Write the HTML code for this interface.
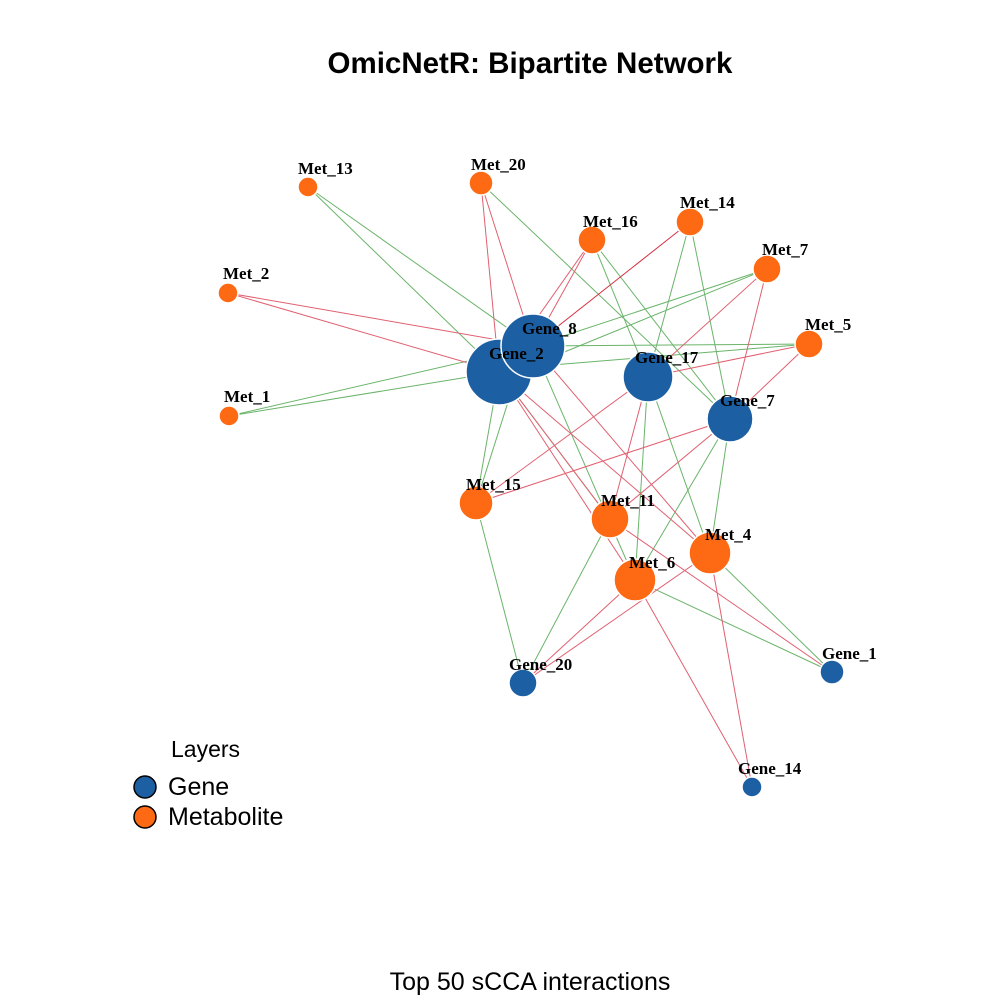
<!DOCTYPE html>
<html><head><meta charset="utf-8"><style>
html,body{margin:0;padding:0;background:#fff;width:1000px;height:1000px;overflow:hidden}
svg text{font-family:"Liberation Serif",serif;font-weight:bold;font-size:17px}
</style></head><body>
<svg width="1000" height="1000" viewBox="0 0 1000 1000" xmlns="http://www.w3.org/2000/svg">
<text x="530" y="73" text-anchor="middle" style="font-family:'Liberation Sans',sans-serif;font-size:29.5px;font-weight:bold">OmicNetR: Bipartite Network</text>
<g stroke-width="1" fill="none">
<g stroke="#6ab46a">
<line x1="308" y1="187" x2="499" y2="372"/><line x1="308" y1="187" x2="533" y2="346"/>
<line x1="481" y1="183" x2="730" y2="419"/>
<line x1="229" y1="416" x2="499" y2="372"/><line x1="229" y1="416" x2="533" y2="346"/>
<line x1="592" y1="240" x2="648" y2="377"/><line x1="592" y1="240" x2="730" y2="419"/>
<line x1="690" y1="222" x2="648" y2="377"/><line x1="690" y1="222" x2="730" y2="419"/>
<line x1="767" y1="269" x2="533" y2="346"/><line x1="767" y1="269" x2="540" y2="362"/>
<line x1="809" y1="344" x2="533" y2="346"/><line x1="809" y1="344" x2="540" y2="366"/>
<line x1="476" y1="503" x2="499" y2="372"/><line x1="476" y1="503" x2="523" y2="683"/>
<line x1="515" y1="380" x2="476" y2="503"/>
<line x1="610" y1="519" x2="499" y2="372"/><line x1="610" y1="519" x2="523" y2="683"/>
<line x1="635" y1="580" x2="533" y2="346"/><line x1="635" y1="580" x2="648" y2="377"/><line x1="635" y1="580" x2="730" y2="419"/><line x1="635" y1="580" x2="832" y2="672"/>
<line x1="710" y1="553" x2="648" y2="377"/><line x1="710" y1="553" x2="730" y2="419"/><line x1="710" y1="553" x2="832" y2="672"/>
</g>
<g stroke="#e06070">
<line x1="481" y1="183" x2="499" y2="372"/><line x1="481" y1="183" x2="533" y2="346"/>
<line x1="228" y1="293" x2="499" y2="372"/><line x1="228" y1="293" x2="533" y2="346"/>
<line x1="592" y1="240" x2="499" y2="372"/><line x1="592" y1="240" x2="533" y2="346"/>
<line x1="690" y1="222" x2="533" y2="346" stroke="#d83040"/>
<line x1="767" y1="269" x2="648" y2="377"/><line x1="767" y1="269" x2="730" y2="419"/>
<line x1="809" y1="344" x2="648" y2="377"/><line x1="809" y1="344" x2="730" y2="419"/>
<line x1="476" y1="503" x2="648" y2="377"/><line x1="476" y1="503" x2="730" y2="419"/>
<line x1="610" y1="519" x2="499" y2="372"/><line x1="610" y1="519" x2="648" y2="377"/><line x1="610" y1="519" x2="730" y2="419"/><line x1="610" y1="519" x2="832" y2="672"/>
<line x1="635" y1="580" x2="499" y2="372"/><line x1="635" y1="580" x2="523" y2="683"/><line x1="635" y1="580" x2="752" y2="787"/>
<line x1="710" y1="553" x2="499" y2="372"/><line x1="710" y1="553" x2="533" y2="346"/><line x1="710" y1="553" x2="523" y2="683"/><line x1="710" y1="553" x2="752" y2="787"/>
</g>
</g>
<g stroke="#fff" stroke-width="1.5">
<circle cx="308" cy="187" r="10" fill="#fd6a13"/>
<circle cx="481" cy="183" r="12" fill="#fd6a13"/>
<circle cx="592" cy="240" r="14" fill="#fd6a13"/>
<circle cx="690" cy="222" r="14" fill="#fd6a13"/>
<circle cx="767" cy="269" r="14" fill="#fd6a13"/>
<circle cx="809" cy="344" r="14" fill="#fd6a13"/>
<circle cx="228" cy="293" r="10" fill="#fd6a13"/>
<circle cx="229" cy="416" r="10" fill="#fd6a13"/>
<circle cx="499" cy="372" r="33" fill="#1c60a3"/>
<circle cx="533" cy="346" r="32" fill="#1c60a3"/>
<circle cx="648" cy="377" r="25" fill="#1c60a3"/>
<circle cx="730" cy="419" r="23" fill="#1c60a3"/>
<circle cx="476" cy="503" r="17" fill="#fd6a13"/>
<circle cx="610" cy="519" r="19" fill="#fd6a13"/>
<circle cx="710" cy="553" r="21" fill="#fd6a13"/>
<circle cx="635" cy="580" r="21" fill="#fd6a13"/>
<circle cx="523" cy="683" r="14" fill="#1c60a3"/>
<circle cx="832" cy="672" r="12" fill="#1c60a3"/>
<circle cx="752" cy="787" r="10" fill="#1c60a3"/>
</g>
<g fill="#000">
<text x="298" y="174">Met_13</text>
<text x="471" y="170">Met_20</text>
<text x="583" y="227">Met_16</text>
<text x="680" y="208">Met_14</text>
<text x="762" y="255">Met_7</text>
<text x="805" y="330">Met_5</text>
<text x="223" y="279">Met_2</text>
<text x="224" y="402">Met_1</text>
<text x="522" y="334">Gene_8</text>
<text x="489" y="359">Gene_2</text>
<text x="635" y="363">Gene_17</text>
<text x="720" y="406">Gene_7</text>
<text x="466" y="490">Met_15</text>
<text x="601" y="506">Met_11</text>
<text x="705" y="540">Met_4</text>
<text x="629" y="568">Met_6</text>
<text x="509" y="670">Gene_20</text>
<text x="822" y="659">Gene_1</text>
<text x="738" y="774">Gene_14</text>
</g>
<text x="171" y="757" style="font-family:'Liberation Sans',sans-serif;font-weight:normal;font-size:23px">Layers</text>
<circle cx="145" cy="787" r="11" fill="#1c60a3" stroke="#000" stroke-width="1.5"/>
<circle cx="145" cy="817" r="11" fill="#fd6a13" stroke="#000" stroke-width="1.5"/>
<text x="168" y="795" style="font-family:'Liberation Sans',sans-serif;font-weight:normal;font-size:25px">Gene</text>
<text x="168" y="825" style="font-family:'Liberation Sans',sans-serif;font-weight:normal;font-size:25px">Metabolite</text>
<text x="530" y="990" text-anchor="middle" style="font-family:'Liberation Sans',sans-serif;font-weight:normal;font-size:25px">Top 50 sCCA interactions</text>
</svg>
</body></html>
